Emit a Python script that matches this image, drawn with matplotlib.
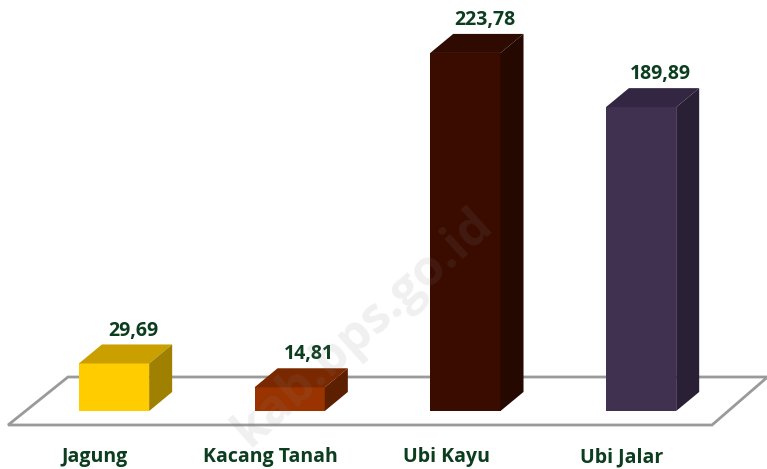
import matplotlib
matplotlib.use("Agg")
import matplotlib.pyplot as plt
from matplotlib.patches import Polygon

# data
categories = ["Jagung", "Kacang Tanah", "Ubi Kayu", "Ubi Jalar"]
values = [29.69, 14.81, 223.78, 189.89]
value_labels = ["29,69", "14,81", "223,78", "189,89"]

front_colors = ["#ffcc00", "#993300", "#3a0c00", "#403150"]
top_colors = ["#c9a000", "#7a2800", "#2e0a00", "#332642"]
side_colors = ["#a08000", "#5c1f00", "#250800", "#2a2035"]

text_color = "#0b3d1e"
plt.rcParams['font.family'] = ['Open Sans', 'DejaVu Sans']

fig = plt.figure(figsize=(7.67, 4.69), dpi=100)
ax = fig.add_axes([0, 0, 1, 1])
ax.set_xlim(-0.649, 3.717)
ax.set_ylim(-36.25, 256.875)
ax.axis("off")

width = 0.4
dx, dy = 0.131, 11.9  # fake 3D depth

# floor
floor = Polygon([(-0.603, -8.75), (3.404, -8.75), (3.72, 21.25), (-0.262, 21.25)],
                closed=True, facecolor="white", edgecolor="#9a9a9a", linewidth=2, zorder=1)
ax.add_patch(floor)

for i, (v, lab) in enumerate(zip(values, value_labels)):
    x0, x1 = i - width / 2, i + width / 2
    ax.add_patch(Polygon([(x0, 0), (x1, 0), (x1, v), (x0, v)],
                         facecolor=front_colors[i], edgecolor="none", zorder=3))
    ax.add_patch(Polygon([(x0, v), (x1, v), (x1 + dx, v + dy), (x0 + dx, v + dy)],
                         facecolor=top_colors[i], edgecolor="none", zorder=3))
    ax.add_patch(Polygon([(x1, 0), (x1 + dx, dy), (x1 + dx, v + dy), (x1, v)],
                         facecolor=side_colors[i], edgecolor="none", zorder=3))
    ax.text(i + 0.11, v + dy + 5.5, lab, ha="center", va="baseline",
            fontsize=14, fontweight="bold", color=text_color, zorder=5)
    ax.text(i - 0.11, -28.75, categories[i], ha="center", va="center",
            fontsize=14, fontweight="bold", color=text_color, zorder=5)

# faint watermark
ax.text(1.42, 52, "kab.bps.go.id", rotation=42, ha="center", va="center",
        fontsize=36, fontweight="bold", color="#808080", alpha=0.12, zorder=6)

fig.savefig("out.png", dpi=100)
